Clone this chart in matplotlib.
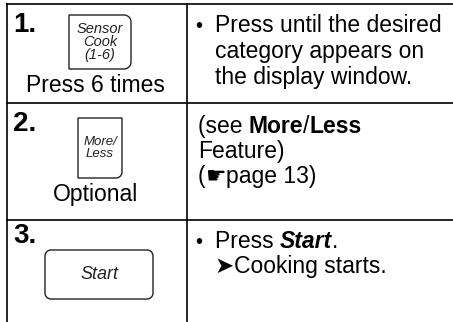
import numpy as np
import matplotlib
matplotlib.use("Agg")
import matplotlib.pyplot as plt
from matplotlib.patches import PathPatch
from matplotlib.path import Path

plt.rcParams['font.family'] = ['Liberation Sans', 'DejaVu Sans']

W, H = 453, 322

# table content
steps = ["1.", "2.", "3."]
button_labels = ["Sensor\nCook\n(1-6)", "More/\nLess", "Start"]
captions = ["Press 6 times", "Optional", ""]

# right column, one entry per row: list of lines, each line is (indent, runs)
# a run is (text, weight, style)
notes = [
    [(True, [("Press until the desired", "normal", "normal")]),
     (False, [("category appears on", "normal", "normal")]),
     (False, [("the display window.", "normal", "normal")])],
    [(None, [("(see ", "normal", "normal"), ("More", "bold", "normal"),
             ("/", "normal", "normal"), ("Less", "bold", "normal")]),
     (None, [("Feature)", "normal", "normal")]),
     (None, [("(", "normal", "normal"), ("\u261b", "normal", "normal"),
             ("page 13)", "normal", "normal")])],
    [(True, [("Press ", "normal", "normal"), ("Start", "bold", "italic"),
             (".", "normal", "normal")]),
     (False, [("\u27a4Cooking starts.", "normal", "normal")])],
]

# layout (pixels, y downward)
row_tops = [4, 103, 220]
col_x = [7, 187]
step_base = [32, 131, 243]
btn_boxes = [(69, 15, 131, 69), (78, 118, 122, 178), (45, 250, 153, 299)]
btn_radii = [(0, 7, 7, 0), (0, 0, 6, 0), (6, 6, 6, 6)]
btn_sizes = [10.5, 9.5, 13]
btn_fonts = [['Liberation Sans Narrow', 'Liberation Sans'],
             ['Liberation Sans Narrow', 'Liberation Sans'],
             ['Liberation Sans']]
caption_y = [92, 201, 0]
note_base = [[32, 58, 84], [133, 158, 183], [248, 273]]


def box_path(x0, y0, x1, y1, radii):
    tl, tr, br, bl = radii

    def arc(cx, cy, rad, a0, a1):
        if rad == 0:
            return [(cx, cy)]
        t = np.radians(np.linspace(a0, a1, 12))
        return list(zip(cx + rad * np.cos(t), cy + rad * np.sin(t)))

    pts = []
    pts += arc(x0 + tl, y0 + tl, tl, 180, 270)
    pts += arc(x1 - tr, y0 + tr, tr, 270, 360)
    pts += arc(x1 - br, y1 - br, br, 0, 90)
    pts += arc(x0 + bl, y1 - bl, bl, 90, 180)
    pts.append(pts[0])
    return Path(pts, closed=True)


fig = plt.figure(figsize=(W / 100, H / 100), dpi=100)
ax = fig.add_axes([0, 0, 1, 1])
ax.set_xlim(0, W)
ax.set_ylim(H, 0)
ax.axis("off")
renderer = fig.canvas.get_renderer()

# grid lines
lw = 1.2
for y in row_tops:
    ax.plot([col_x[0], W], [y, y], color="black", lw=lw)
for x in col_x:
    ax.plot([x, x], [row_tops[0], H], color="black", lw=lw)

BODY = 16.5

for i, step in enumerate(steps):
    ax.text(13, step_base[i], step, fontsize=20, fontweight="bold",
            va="baseline", ha="left")

    x0, y0, x1, y1 = btn_boxes[i]
    ax.add_patch(PathPatch(box_path(x0, y0, x1, y1, btn_radii[i]),
                           facecolor="white", edgecolor="#222222", lw=1.0))
    ax.text((x0 + x1) / 2, (y0 + y1) / 2, button_labels[i],
            family=btn_fonts[i], fontsize=btn_sizes[i], fontstyle="italic",
            ha="center", va="center", linespacing=0.95, color="#222222")

    if captions[i]:
        ax.text(95, caption_y[i], captions[i], fontsize=BODY,
                ha="center", va="baseline")

    for (indent, runs), yb in zip(notes[i], note_base[i]):
        if indent is True:
            ax.text(195, yb, "\u2022", fontsize=BODY - 2, va="baseline")
        x = 215 if indent is not None else 198
        for txt, weight, style in runs:
            t = ax.text(x, yb, txt, fontsize=BODY, fontweight=weight,
                        fontstyle=style, va="baseline", ha="left")
            x += t.get_window_extent(renderer).width

fig.savefig("out.png", dpi=100)
